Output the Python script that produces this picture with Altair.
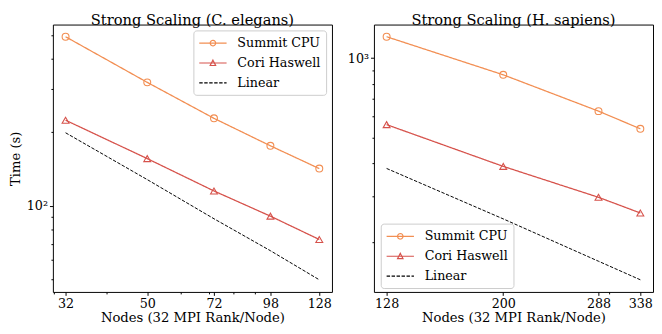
import math
import altair as alt
import pandas as pd

# ---------------- data ----------------
series_names = ["Summit CPU", "Cori Haswell", "Linear"]
series_colors = ["#f28e52", "#d6524b", "#000000"]
series_dashes = [[1, 0], [1, 0], [3.5, 1.6]]
series_widths = [1.3, 1.3, 1.0]
# legend symbols (unit = 7 px): line segment with the marker in its middle
legend_paths = [
    "M-1,0H3M1.4,0A0.4,0.4,0,1,1,0.6,0A0.4,0.4,0,1,1,1.4,0",
    "M-1,0H3M0.6,0.36L1,-0.42L1.4,0.36Z",
    "M-1,0H3",
]

ce_nodes = [32, 50, 72, 98, 128]
ce_summit = [492, 320, 228, 176, 142]
ce_cori = [224, 156, 115, 90.7, 72.8]
ce_linear = [199, 128, 88.5, 65.5, 49.8]

hs_nodes = [128, 200, 288, 338]
hs_summit = [1206, 865, 630, 540]
hs_cori = [560, 389, 297, 259]
hs_linear = [382, 246, 170, 144.6]

ce_xmajor = [32, 50, 72, 98, 128]
ce_xminor = [30, 40, 60, 70, 80, 90]
ce_ymajor = 100
ce_ymajor_label = "10²"
ce_yminor = [50, 60, 70, 80, 90, 200, 300, 400, 500]

hs_xmajor = [128, 200, 288, 338]
hs_xminor = [300]
hs_ymajor = 1000
hs_ymajor_label = "10³"
hs_yminor = [200, 300, 400, 500, 600, 700, 800, 900]

FONT = "DejaVu Serif"
W, H = 286, 274


def log_margin(vals, frac=0.05):
    lo, hi = math.log10(min(vals)), math.log10(max(vals))
    m = (hi - lo) * frac
    return [10 ** (lo - m), 10 ** (hi + m)]


def panel(nodes, summit, cori, linear, title, xmajor, xminor, ymajor, ylabel,
          yminor, ytitle, lx, ly):
    rows = []
    for name, vals in zip(series_names, [summit, cori, linear]):
        for n, v in zip(nodes, vals):
            rows.append({"nodes": n, "time": v, "series": name})
    df = pd.DataFrame(rows)

    xdom = log_margin(nodes)
    ydom = log_margin(summit + cori + linear)
    xvals = sorted(set(xmajor + xminor))
    yvals = sorted(set([ymajor] + yminor))

    xtest = f"indexof({xmajor}, datum.value) >= 0"
    ytest = f"datum.value == {ymajor}"

    x = alt.X(
        "nodes:Q",
        scale=alt.Scale(type="log", domain=xdom, nice=False, zero=False),
        axis=alt.Axis(
            values=xvals,
            labelExpr=f"{xtest} ? format(datum.value, 'd') : ''",
            tickSize={"condition": {"test": xtest, "value": 3.5}, "value": 2},
            labelOverlap=False, labelFlush=False, grid=False,
            labelPadding=2, titlePadding=1,
        ),
        title="Nodes (32 MPI Rank/Node)",
    )
    y = alt.Y(
        "time:Q",
        scale=alt.Scale(type="log", domain=ydom, nice=False, zero=False),
        axis=alt.Axis(
            values=yvals,
            labelExpr=f"{ytest} ? '{ylabel}' : ''",
            tickSize={"condition": {"test": ytest, "value": 3.5}, "value": 2},
            labelOverlap=False, labelFlush=False, grid=False,
            labelPadding=2, titlePadding=4,
        ),
        title=ytitle if ytitle else None,
    )

    base = alt.Chart(df)
    layers = []
    for name, col, dash, sw in zip(series_names, series_colors, series_dashes, series_widths):
        layers.append(
            base.transform_filter(f"datum.series == '{name}'")
            .mark_line(color=col, strokeDash=dash, strokeWidth=sw)
            .encode(x=x, y=y)
        )
    layers.append(
        base.transform_filter("datum.series == 'Summit CPU'")
        .mark_point(shape="circle", filled=False, size=50, strokeWidth=1.1,
                    opacity=1, color=series_colors[0])
        .encode(x=x, y=y)
    )
    layers.append(
        base.transform_filter("datum.series == 'Cori Haswell'")
        .mark_point(shape="triangle-up", filled=False, size=50, strokeWidth=1.1,
                    opacity=1, color=series_colors[1])
        .encode(x=x, y=y)
    )

    leg = alt.Legend(
        orient="none", legendX=lx, legendY=ly, title=None,
        symbolSize=196, symbolStrokeWidth=1.2, symbolOpacity=1,
        labelFont=FONT, labelFontSize=13, labelColor="black", labelOffset=24,
        rowPadding=5.4, padding=5, strokeColor="#cccccc", fillColor="white",
        cornerRadius=3,
    )
    layers.append(
        base.transform_filter("false").mark_point(filled=False).encode(
            x=x, y=y,
            color=alt.Color("series:N", scale=alt.Scale(domain=series_names, range=series_colors), legend=leg),
            shape=alt.Shape("series:N", scale=alt.Scale(domain=series_names, range=legend_paths), legend=leg),
            strokeDash=alt.StrokeDash("series:N", scale=alt.Scale(domain=series_names, range=series_dashes), legend=leg),
        )
    )

    return alt.layer(*layers).properties(
        width=W, height=H,
        title=alt.TitleParams(title, font=FONT, fontSize=15, fontWeight="normal",
                              color="black", offset=-3),
    )


left = panel(ce_nodes, ce_summit, ce_cori, ce_linear, "Strong Scaling (C. elegans)",
             ce_xmajor, ce_xminor, ce_ymajor, ce_ymajor_label, ce_yminor, "Time (s)",
             144, 6)
right = panel(hs_nodes, hs_summit, hs_cori, hs_linear, "Strong Scaling (H. sapiens)",
              hs_xmajor, hs_xminor, hs_ymajor, hs_ymajor_label, hs_yminor, None,
              7, H - 70)

chart = alt.hconcat(left, right, spacing=14).resolve_legend(
    color="independent", shape="independent", strokeDash="independent"
).configure(
    padding=0
).configure_view(
    stroke="black", strokeWidth=1
).configure_axis(
    domain=False, tickColor="black", tickWidth=1,
    labelFont=FONT, labelFontSize=13, labelColor="black",
    titleFont=FONT, titleFontSize=13.5, titleFontWeight="normal", titleColor="black",
)

chart.save("out.html", embed_options={"renderer": "svg", "actions": False})
